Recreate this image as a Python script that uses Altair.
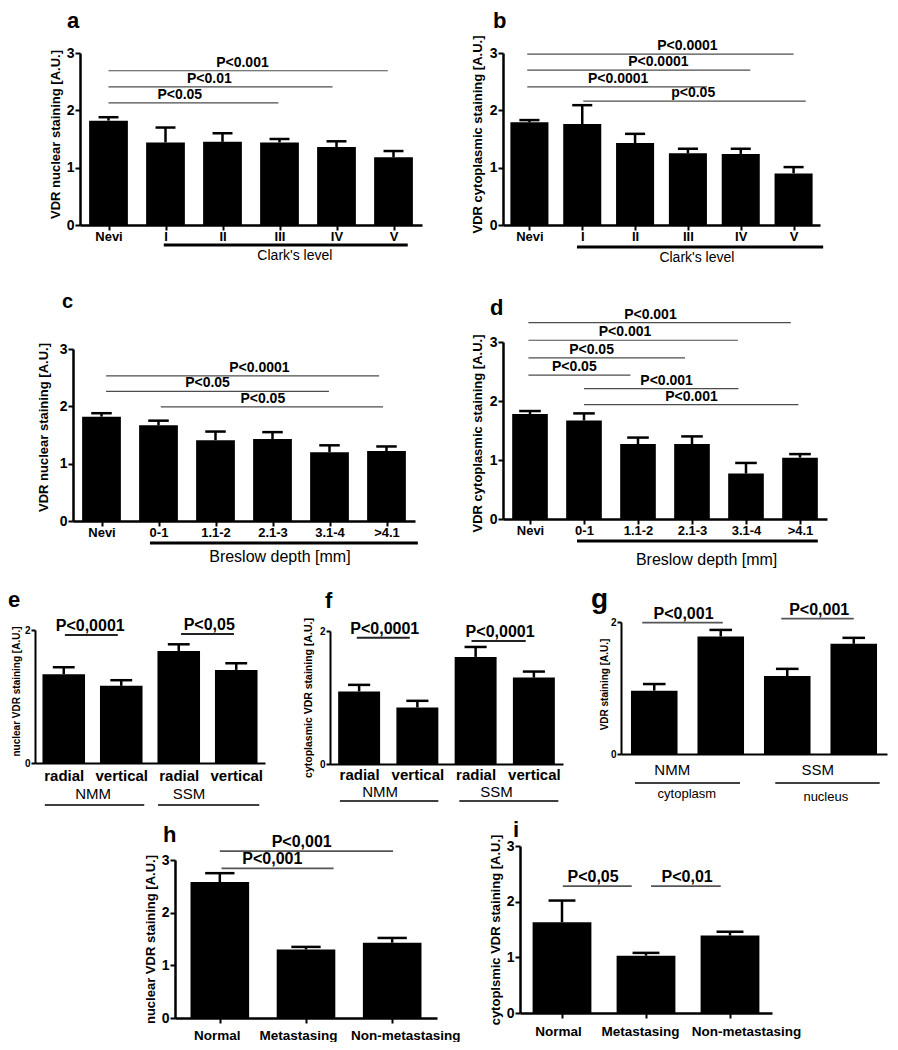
import json
import altair as alt
import pandas as pd

FONT = "Liberation Sans"

# ---------------- categories ----------------
CLARK = ["Nevi", "I", "II", "III", "IV", "V"]
BRESLOW = ["Nevi", "0-1", "1.1-2", "2.1-3", "3.1-4", ">4.1"]
GROWTH = ["radial", "vertical", "radial", "vertical"]
COMPART = ["", "", "", ""]
META = ["Normal", "Metastasing", "Non-metastasing"]

# ---------------- bar means and top of error bars ----------------
A_MEAN = [1.82, 1.44, 1.45, 1.44, 1.36, 1.18]
A_TOP = [1.88, 1.70, 1.60, 1.50, 1.46, 1.29]
B_MEAN = [1.79, 1.76, 1.43, 1.25, 1.24, 0.90]
B_TOP = [1.83, 2.09, 1.59, 1.33, 1.33, 1.01]
C_MEAN = [1.82, 1.67, 1.41, 1.43, 1.20, 1.22]
C_TOP = [1.88, 1.75, 1.56, 1.55, 1.32, 1.30]
D_MEAN = [1.78, 1.67, 1.27, 1.27, 0.77, 1.04]
D_TOP = [1.83, 1.79, 1.38, 1.40, 0.95, 1.10]
E_MEAN = [1.335, 1.16, 1.685, 1.40]
E_TOP = [1.44, 1.245, 1.785, 1.50]
F_MEAN = [1.09, 0.85, 1.61, 1.30]
F_TOP = [1.19, 0.95, 1.76, 1.39]
G_MEAN = [0.96, 1.78, 1.18, 1.67]
G_TOP = [1.06, 1.88, 1.29, 1.76]
H_MEAN = [2.58, 1.30, 1.43]
H_TOP = [2.75, 1.35, 1.52]
I_MEAN = [1.63, 1.03, 1.39]
I_TOP = [2.02, 1.08, 1.46]

# ---------------- significance brackets: (from, to, level, label, label centre) ----------------
A_SIG = [(0, 4.9, 2.69, "P<0.001", 2.35), (0, 3.93, 2.41, "P<0.01", 1.77), (0, 2.98, 2.13, "P<0.05", 1.25)]
B_SIG = [(-0.04, 5.0, 2.98, "P<0.0001", 2.99), (-0.04, 4.18, 2.70, "P<0.0001", 2.44),
         (-0.04, 3.36, 2.41, "P<0.0001", 1.68), (1.02, 5.23, 2.16, "p<0.05", 3.10)]
C_SIG = [(0.08, 4.87, 2.53, "P<0.0001", 2.77), (0.08, 3.99, 2.26, "P<0.05", 1.86),
         (1.04, 4.94, 1.99, "P<0.05", 2.83)]
D_SIG = [(-0.03, 4.83, 3.33, "P<0.001", 2.23), (-0.03, 3.85, 3.03, "P<0.001", 1.76),
         (-0.03, 2.87, 2.73, "P<0.05", 1.14), (-0.03, 1.86, 2.44, "P<0.05", 0.82),
         (1.0, 3.86, 2.21, "P<0.001", 2.53), (1.0, 4.97, 1.94, "P<0.001", 2.99)]
E_SIG = [(0.02, 0.94, 1.925, "P<0,0001", 0.46), (2.04, 2.96, 1.94, "P<0,05", 2.53)]
F_SIG = [(-0.04, 0.87, 1.90, "P<0,0001", 0.44), (1.93, 2.86, 1.85, "P<0,0001", 2.42)]
G_SIG = [(-0.18, 1.03, 1.99, "P<0,001", 0.44), (1.91, 3.0, 2.05, "P<0,001", 2.48)]
H_SIG = [(0.0, 2.01, 3.17, "P<0,001", 0.95), (0.02, 1.32, 2.84, "P<0,001", 0.61)]
I_SIG = [(0.01, 0.83, 2.28, "P<0,05", 0.37), (1.06, 1.89, 2.28, "P<0,01", 1.49)]

PAGE = 8        # page margin; every panel view is 1 px tall and stacked flush
VIEW_W = 882


def panel(k, cats, mean, top, sig, plot, ymax, yticks, ytitle, letter, hw, cap,
          xdom=None, show_xlabels=True, xtick=5, xlab_size=13, xlab_pad=0, xlab_shift=None,
          ylab_size=14, ytick=5, ylab_pad=1, ytitle_size=13, ytitle_pad=4, ytitle_y=None,
          domain_w=2.5, sig_size=14, sig_color="#4d4d4d", sig_w=1.2,
          letter_size=22, letter_xy=(0, 0), unders=(), under_y=0, under_w=3,
          notes=()):
    cx0, cy0, ch = PAGE, PAGE + k, 1
    pl, pr, pt, pb = plot
    n = len(cats)
    if xdom is None:
        xdom = [-0.5, n - 0.5]
    xs = alt.Scale(domain=xdom, range=[pl - cx0, pr - cx0], nice=False, zero=False)
    ys = alt.Scale(domain=[0, ymax], range=[pb - cy0, pt - cy0], nice=False, zero=False)

    df = pd.DataFrame({"i": list(range(n)), "mean": mean, "top": top})
    df["l"] = df["i"] - hw
    df["r"] = df["i"] + hw
    df["cl"] = df["i"] - cap
    df["cr"] = df["i"] + cap
    df["base"] = 0.0

    extra = {}
    if xlab_shift:
        extra["labelOffset"] = {
            "condition": [{"test": f"datum.value == {j}", "value": s} for j, s in enumerate(xlab_shift)],
            "value": 0,
        }
    yextra = {}
    if ytitle_y is not None:
        yextra["titleY"] = ytitle_y - cy0
    xaxis = alt.Axis(
        values=list(range(n)), labelExpr=json.dumps(cats) + "[datum.value]",
        labels=show_xlabels, title=None, grid=False, offset=(pb - cy0) - ch,
        domainColor="black", domainWidth=domain_w,
        ticks=xtick > 0, tickSize=xtick, tickWidth=2, tickColor="black",
        labelFont=FONT, labelFontSize=xlab_size, labelFontWeight="bold", labelColor="black",
        labelPadding=xlab_pad, labelFlush=False, labelOverlap=False, **extra,
    )
    yaxis = alt.Axis(
        values=yticks, format="d", title=ytitle, grid=False, offset=-(pl - cx0),
        domainColor="black", domainWidth=domain_w,
        tickSize=ytick, tickWidth=2, tickColor="black",
        labelFont=FONT, labelFontSize=ylab_size, labelFontWeight="bold", labelColor="black",
        labelPadding=ylab_pad, labelFlush=False, labelOverlap=False,
        titleFont=FONT, titleFontSize=ytitle_size, titleFontWeight="bold", titleColor="black",
        titlePadding=ytitle_pad, **yextra,
    )

    def X(f):
        return alt.X(f, type="quantitative", scale=xs, axis=xaxis)

    def Y(f):
        return alt.Y(f, type="quantitative", scale=ys, axis=yaxis)

    base = alt.Chart(df)
    bars = base.mark_bar(color="black").encode(
        x=X("l"), x2=alt.X2("r"), y=Y("mean"), y2=alt.Y2("base"))
    err = base.mark_rule(color="black", strokeWidth=2.5).encode(
        x=X("i"), y=Y("mean"), y2=alt.Y2("top"))
    caps = base.mark_rule(color="black", strokeWidth=2.5).encode(
        x=X("cl"), x2=alt.X2("cr"), y=Y("top"))

    sdf = pd.DataFrame(sig, columns=["x1", "x2", "y", "label", "lx"])
    srules = alt.Chart(sdf).mark_rule(color=sig_color, strokeWidth=sig_w).encode(
        x=X("x1"), x2=alt.X2("x2"), y=Y("y"))
    stext = alt.Chart(sdf).mark_text(
        font=FONT, fontSize=sig_size, fontWeight="bold", color="black",
        baseline="alphabetic", align="center", dy=-4).encode(
        x=X("lx"), y=Y("y"), text="label:N")

    layers = [bars, err, caps, srules, stext]

    if unders:
        udf = pd.DataFrame(list(unders), columns=["u1", "u2"])
        layers.append(alt.Chart(udf).mark_rule(color="black", strokeWidth=under_w).encode(
            x=X("u1"), x2=alt.X2("u2"), y=alt.value(under_y - cy0)))
    for txt, nx, ny, size in notes:
        ndf = pd.DataFrame({"t": [txt], "nx": [nx]})
        layers.append(alt.Chart(ndf).mark_text(
            font=FONT, fontSize=size, color="black", baseline="middle", align="center").encode(
            x=X("nx"), y=alt.value(ny - cy0), text="t:N"))

    ldf = pd.DataFrame({"t": [letter]})
    layers.append(alt.Chart(ldf).mark_text(
        font=FONT, fontSize=letter_size, fontWeight="bold", color="black",
        baseline="alphabetic", align="left").encode(
        x=alt.value(letter_xy[0] - cx0), y=alt.value(letter_xy[1] - cy0), text="t:N"))

    return alt.layer(*layers).properties(width=VIEW_W, height=ch)


pa = panel(0, CLARK, A_MEAN, A_TOP, A_SIG, plot=(80, 422, 53, 225),
           ymax=3, yticks=[0, 1, 2, 3], ytitle="VDR nuclear staining [A.U.]", letter="a",
           hw=0.34, cap=0.175, letter_size=22, letter_xy=(67, 28), ytitle_pad=3.5, ytitle_y=134,
           unders=[(0.97, 5.25)], under_y=245, notes=[("Clark's level", 3.27, 256, 14)])
pb = panel(1, CLARK, B_MEAN, B_TOP, B_SIG, plot=(503, 820, 53, 225),
           ymax=3, yticks=[0, 1, 2, 3], ytitle="VDR cytoplasmic staining [A.U.]", letter="b",
           hw=0.36, cap=0.19, letter_size=22, letter_xy=(493, 28), ytitle_pad=4.5, ytitle_y=134,
           unders=[(0.9, 5.56)], under_y=247, notes=[("Clark's level", 3.17, 258, 14)])
pc = panel(2, BRESLOW, C_MEAN, C_TOP, C_SIG, plot=(73, 415, 349, 521),
           ymax=3, yticks=[0, 1, 2, 3], ytitle="VDR nuclear staining [A.U.]", letter="c",
           hw=0.34, cap=0.18, letter_size=20, letter_xy=(62, 308), ytitle_pad=8.5, ytitle_y=427,
           unders=[(0.85, 5.55)], under_y=543, notes=[("Breslow depth [mm]", 3.13, 557, 16)])
pdd = panel(3, BRESLOW, D_MEAN, D_TOP, D_SIG, plot=(503, 827, 342, 519),
            ymax=3, yticks=[0, 1, 2, 3], ytitle="VDR cytoplasmic staining [A.U.]", letter="d",
            hw=0.33, cap=0.2, letter_size=22, letter_xy=(490, 315), ytitle_pad=4.5, ytitle_y=433,
            unders=[(0.87, 5.33)], under_y=541, notes=[("Breslow depth [mm]", 3.27, 560, 16)])
pe = panel(4, GROWTH, E_MEAN, E_TOP, E_SIG, plot=(35, 265, 630, 763),
           ymax=2, yticks=[0, 1, 2], ytitle="nuclear VDR staining [A.U.]", letter="e",
           hw=0.37, cap=0.19, letter_size=22, letter_xy=(8, 607),
           xtick=0, xlab_size=15, xlab_pad=5, ylab_size=10, ytick=4, ytitle_size=10, ytitle_pad=3,
           ytitle_y=691,
           domain_w=2, sig_size=16, sig_color="#222222", sig_w=2,
           unders=[(-0.33, 1.40), (1.64, 3.40)], under_y=805, under_w=1.5,
           notes=[("NMM", 0.51, 794, 15), ("SSM", 2.18, 794, 15)])
pf = panel(5, GROWTH, F_MEAN, F_TOP, F_SIG, plot=(330, 563, 631, 764),
           ymax=2, yticks=[0, 1, 2], ytitle="cytoplasmic VDR staining [A.U.]", letter="f",
           hw=0.36, cap=0.19, letter_size=22, letter_xy=(325, 608),
           xtick=0, xlab_size=15, xlab_pad=3, ylab_size=10, ytick=4, ytitle_size=10.5, ytitle_pad=6,
           domain_w=2, sig_size=16, sig_color="#222222", sig_w=2,
           unders=[(-0.33, 1.36), (1.72, 3.42)], under_y=801, under_w=1.5,
           notes=[("NMM", 0.36, 792, 15), ("SSM", 2.36, 792, 15)])
pg = panel(6, COMPART, G_MEAN, G_TOP, G_SIG, plot=(621, 887, 622, 754),
           ymax=2, yticks=[0, 1, 2], ytitle="VDR staining [A.U.]", letter="g",
           hw=0.35, cap=0.17, letter_size=28, letter_xy=(591, 608), show_xlabels=False,
           xtick=0, ylab_size=10, ytick=4, ytitle_size=10, ytitle_pad=1, ytitle_y=684,
           domain_w=2, sig_size=16, sig_color="#555555", sig_w=1.7,
           unders=[(-0.29, 1.29), (1.82, 3.39)], under_y=783, under_w=1.5,
           notes=[("NMM", 0.27, 770, 15), ("SSM", 2.46, 770, 15),
                  ("cytoplasm", 0.49, 794, 13), ("nucleus", 2.58, 797, 13)])
ph = panel(7, META, H_MEAN, H_TOP, H_SIG, plot=(175, 437, 860, 1018),
           ymax=3, yticks=[0, 1, 2, 3], ytitle="nuclear VDR staining [A.U.]", letter="h",
           hw=0.34, cap=0.17, xdom=[-0.52, 2.52], letter_size=22, letter_xy=(163, 842),
           xlab_size=13.5, xlab_pad=5, xlab_shift=[-3, -8, 13],
           ytitle_pad=3.5, sig_size=16, sig_color="#555555", sig_w=1.7)
pi = panel(8, META, I_MEAN, I_TOP, I_SIG, plot=(520, 772, 846, 1013),
           ymax=3, yticks=[0, 1, 2, 3], ytitle="cytoplsmic VDR staining [A.U.]", letter="i",
           hw=0.35, cap=0.16, letter_size=22, letter_xy=(513, 837),
           xlab_size=13.5, xlab_pad=6, xlab_shift=[-4, -6, 16],
           ytitle_pad=3.5, sig_size=16, sig_color="#555555", sig_w=1.7)

chart = alt.vconcat(pa, pb, pc, pdd, pe, pf, pg, ph, pi, spacing=0, bounds="flush").properties(
    padding={"left": 0, "top": 0, "right": 0, "bottom": 0},
    background="white",
).configure_view(stroke=None)

chart.save("out.html", embed_options={"renderer": "svg", "actions": False})
